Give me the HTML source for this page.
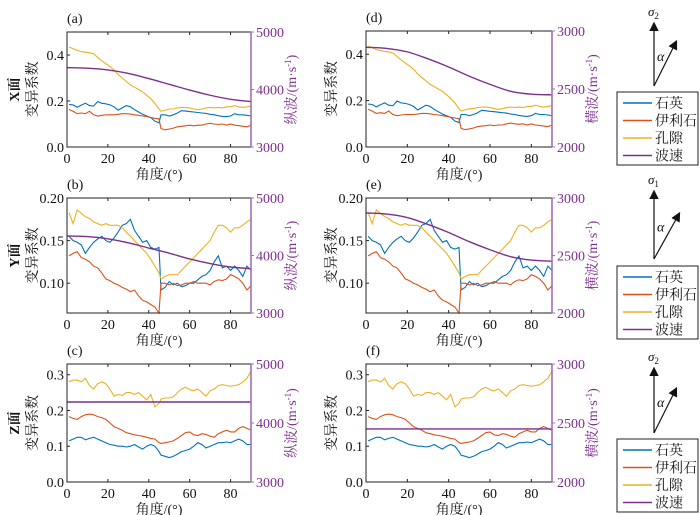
<!DOCTYPE html>
<html><head><meta charset="utf-8">
<style>
body{margin:0;background:#fff;}
svg{display:block;font-family:"Liberation Serif","Noto Serif CJK SC",serif;}
</style></head>
<body>
<svg id="fig" width="700" height="515" viewBox="0 0 700 515"></svg>
<script>
// ---- data ----
const angles = [1,3,5,7,9,11,13,15,17,19,21,23,25,27,29,31,33,35,37,39,41,43,45,46,48,50,52,54,56,58,60,62,64,66,68,70,72,74,76,78,80,82,84,86,88,90];
const xQuartz = [0.185,0.183,0.173,0.182,0.19,0.18,0.178,0.198,0.19,0.188,0.183,0.175,0.16,0.17,0.18,0.175,0.162,0.152,0.142,0.135,0.128,0.112,0.105,0.14,0.14,0.135,0.14,0.148,0.158,0.156,0.154,0.152,0.15,0.148,0.146,0.142,0.14,0.136,0.133,0.132,0.135,0.145,0.14,0.14,0.138,0.135];
const xIllite = [0.163,0.155,0.145,0.148,0.145,0.155,0.14,0.135,0.138,0.14,0.14,0.14,0.142,0.145,0.145,0.143,0.14,0.138,0.135,0.132,0.128,0.125,0.122,0.08,0.075,0.078,0.082,0.088,0.09,0.092,0.095,0.092,0.095,0.095,0.1,0.103,0.1,0.098,0.1,0.095,0.1,0.095,0.093,0.09,0.088,0.095];
const xPore = [0.435,0.428,0.42,0.415,0.412,0.41,0.405,0.39,0.375,0.362,0.35,0.335,0.315,0.3,0.285,0.27,0.26,0.25,0.24,0.225,0.21,0.19,0.165,0.155,0.16,0.165,0.165,0.17,0.172,0.172,0.17,0.165,0.162,0.165,0.17,0.172,0.17,0.172,0.17,0.175,0.175,0.18,0.175,0.172,0.175,0.178];
const yQuartz = [0.155,0.15,0.148,0.145,0.135,0.142,0.148,0.152,0.155,0.15,0.148,0.153,0.16,0.168,0.17,0.175,0.162,0.155,0.148,0.15,0.142,0.14,0.142,0.092,0.095,0.102,0.098,0.1,0.096,0.097,0.1,0.1,0.104,0.108,0.11,0.115,0.125,0.132,0.118,0.12,0.115,0.12,0.115,0.108,0.12,0.115];
const yIllite = [0.132,0.135,0.137,0.13,0.128,0.125,0.12,0.118,0.112,0.105,0.103,0.1,0.098,0.095,0.093,0.09,0.092,0.085,0.08,0.078,0.075,0.072,0.065,0.1,0.1,0.098,0.1,0.097,0.098,0.1,0.1,0.102,0.1,0.1,0.1,0.098,0.102,0.104,0.103,0.105,0.11,0.108,0.105,0.1,0.092,0.097];
const yPore = [0.183,0.17,0.186,0.182,0.178,0.176,0.172,0.17,0.168,0.17,0.168,0.168,0.168,0.165,0.16,0.155,0.15,0.145,0.14,0.135,0.128,0.12,0.112,0.105,0.108,0.11,0.11,0.11,0.115,0.12,0.125,0.13,0.135,0.14,0.145,0.15,0.16,0.168,0.168,0.165,0.16,0.165,0.165,0.168,0.172,0.175];
const zQuartz = [0.115,0.12,0.125,0.125,0.118,0.122,0.125,0.12,0.115,0.11,0.105,0.103,0.1,0.1,0.098,0.1,0.105,0.098,0.092,0.1,0.105,0.1,0.085,0.075,0.072,0.068,0.072,0.078,0.085,0.088,0.092,0.1,0.11,0.105,0.095,0.1,0.105,0.11,0.11,0.112,0.11,0.115,0.12,0.115,0.105,0.105];
const zIllite = [0.183,0.178,0.175,0.183,0.188,0.19,0.188,0.183,0.18,0.175,0.165,0.155,0.15,0.145,0.138,0.135,0.132,0.13,0.128,0.125,0.122,0.12,0.11,0.108,0.11,0.112,0.115,0.122,0.13,0.138,0.14,0.132,0.13,0.135,0.133,0.128,0.125,0.135,0.14,0.145,0.14,0.14,0.15,0.155,0.15,0.145];
const zPore = [0.28,0.285,0.285,0.28,0.29,0.27,0.26,0.275,0.28,0.275,0.26,0.24,0.245,0.242,0.25,0.25,0.245,0.25,0.24,0.23,0.245,0.21,0.22,0.232,0.235,0.235,0.238,0.25,0.26,0.265,0.258,0.255,0.26,0.25,0.24,0.255,0.26,0.27,0.272,0.27,0.268,0.27,0.272,0.28,0.29,0.31];
const velAngles = [0,10,20,30,40,50,60,70,80,90];
const vpX = [4380,4370,4340,4280,4190,4090,3990,3900,3830,3790];
const vpY = [4340,4330,4290,4220,4130,4040,3940,3860,3800,3770];
const vpZ = [4356,4356,4356,4356,4356,4356,4356,4356,4356,4356];
const vsX = [2860,2850,2820,2760,2690,2610,2540,2480,2455,2450];
const vsY = [2870,2860,2830,2770,2700,2620,2550,2490,2460,2450];
const vsZ = [2450,2450,2450,2450,2450,2450,2450,2450,2450,2450];
const xTicks = [0,20,40,60,80];

const C = {q:'#0072BD', i:'#D95319', p:'#EDB120', v:'#7E2F8E'};
const svg = document.getElementById('fig');
const NS = 'http://www.w3.org/2000/svg';
function mk(tag, attrs, parent){const e=document.createElementNS(NS,tag);for(const k in attrs)e.setAttribute(k,attrs[k]);(parent||svg).appendChild(e);return e;}
function txt(s, attrs, parent){const e=mk('text',attrs,parent);e.textContent=s;return e;}

const panels = [
 {id:'a',x0:67,x1:251,y0:32,y1:147,lmin:0,lmax:0.5,lt:[0,0.2,0.4],lf:1,rmin:3000,rmax:5000,rt:[3000,4000,5000],face:'X面',rl:'纵波',q:xQuartz,i:xIllite,p:xPore,v:vpX,left:true},
 {id:'b',x0:67,x1:251,y0:198,y1:313,lmin:0.065,lmax:0.2,lt:[0.10,0.15,0.20],lf:2,rmin:3000,rmax:5000,rt:[3000,4000,5000],face:'Y面',rl:'纵波',q:yQuartz,i:yIllite,p:yPore,v:vpY,left:true},
 {id:'c',x0:67,x1:251,y0:364,y1:482,lmin:0,lmax:0.33,lt:[0,0.1,0.2,0.3],lf:1,rmin:3000,rmax:5000,rt:[3000,4000,5000],face:'Z面',rl:'纵波',q:zQuartz,i:zIllite,p:zPore,v:vpZ,left:true},
 {id:'d',x0:366,x1:552,y0:31,y1:147,lmin:0,lmax:0.5,lt:[0,0.2,0.4],lf:1,rmin:2000,rmax:3000,rt:[2000,2500,3000],rl:'横波',q:xQuartz,i:xIllite,p:xPore,v:vsX},
 {id:'e',x0:366,x1:552,y0:198,y1:313,lmin:0.065,lmax:0.2,lt:[0.10,0.15,0.20],lf:2,rmin:2000,rmax:3000,rt:[2000,2500,3000],rl:'横波',q:yQuartz,i:yIllite,p:yPore,v:vsY},
 {id:'f',x0:366,x1:552,y0:364,y1:482,lmin:0,lmax:0.33,lt:[0,0.1,0.2,0.3],lf:1,rmin:2000,rmax:3000,rt:[2000,2500,3000],rl:'横波',q:zQuartz,i:zIllite,p:zPore,v:vsZ}
];

panels.forEach(P=>{
  const g = mk('g',{});
  
  
  const sx = a => P.x0 + a/90*(P.x1-P.x0);
  const sy = v => P.y1 - (v-P.lmin)/(P.lmax-P.lmin)*(P.y1-P.y0);
  const sr = v => P.y1 - (v-P.rmin)/(P.rmax-P.rmin)*(P.y1-P.y0);
  // series
  [['q','quartz'],['i','illite'],['p','pore']].forEach(([k,n])=>{
    const pts = angles.map((a,j)=>sx(a).toFixed(1)+','+sy(P[k][j]).toFixed(1)).join(' ');
    const l = mk('polyline',{points:pts,fill:'none',stroke:C[k],'stroke-width':1.1},g);
    
    
  });
  // velocity: catmull-rom
  const vp = velAngles.map((a,j)=>[sx(a),sr(P.v[j])]);
  let d = 'M'+vp[0][0]+','+vp[0][1];
  for(let j=0;j<vp.length-1;j++){
    const p0=vp[Math.max(0,j-1)],p1=vp[j],p2=vp[j+1],p3=vp[Math.min(vp.length-1,j+2)];
    d+=' C'+(p1[0]+(p2[0]-p0[0])/6)+','+(p1[1]+(p2[1]-p0[1])/6)+' '+(p2[0]-(p3[0]-p1[0])/6)+','+(p2[1]-(p3[1]-p1[1])/6)+' '+p2[0]+','+p2[1];
  }
  const vl = mk('path',{d:d,fill:'none',stroke:C.v,'stroke-width':1.4},g);
  
  
  // frame
  mk('path',{d:`M${P.x1},${P.y0} H${P.x0} V${P.y1} H${P.x1}`,fill:'none',stroke:'#222','stroke-width':1},g);
  mk('line',{x1:P.x1,y1:P.y0,x2:P.x1,y2:P.y1,stroke:'#a070b8','stroke-width':1.6},g);
  // x ticks
  xTicks.forEach(t=>{
    mk('line',{x1:sx(t),y1:P.y1,x2:sx(t),y2:P.y1-3,stroke:'#222'},g);
    mk('line',{x1:sx(t),y1:P.y0,x2:sx(t),y2:P.y0+3,stroke:'#222'},g);
    const e=txt(String(t),{x:sx(t),y:P.y1+16,'font-size':14,'text-anchor':'middle',fill:'#111'},g);
    
    
  });
  P.lt.forEach(t=>{
    mk('line',{x1:P.x0,y1:sy(t),x2:P.x0+3,y2:sy(t),stroke:'#222'},g);
    const e=txt(t.toFixed(P.lf),{x:P.x0-3,y:sy(t)+5,'font-size':14,'text-anchor':'end',fill:'#111'},g);
    
    
  });
  P.rt.forEach(t=>{
    mk('line',{x1:P.x1,y1:sr(t),x2:P.x1+3,y2:sr(t),stroke:'#a070b8'},g);
    const e=txt(String(t),{x:P.x1+5,y:sr(t)+5,'font-size':14,fill:C.v},g);
    
    
  });
  const pl=txt('('+P.id+')',{x:P.x0,y:P.y0-9,'font-size':14,fill:'#111'},g);
  
  
  const xl=txt('角度/(°)',{x:(P.x0+P.x1)/2,y:P.y1+32,'font-size':14,'text-anchor':'middle',fill:'#111'},g);
  
  
  const cy=(P.y0+P.y1)/2;
  const yl=txt('变异系数',{x:0,y:0,'font-size':14,'text-anchor':'middle',fill:'#111',transform:`translate(${P.x0-30},${cy}) rotate(-90)`},g);
  
  
  if(P.face){
    const fl=txt(P.face,{x:0,y:0,'font-size':14,'text-anchor':'middle',fill:'#111','font-weight':'bold',transform:`translate(${P.x0-48},${cy}) rotate(-90)`},g);
    
    
  }
  const rl=txt(P.rl+'/(m·s',{x:0,y:0,'font-size':14,'text-anchor':'middle',fill:C.v,transform:`translate(${P.x1+45},${cy}) rotate(-90)`},g);
  const sup=mk('tspan',{dy:-5,'font-size':9},rl); sup.textContent='-1';
  const cl=mk('tspan',{dy:5},rl); cl.textContent=')';
  
  
});

// legends + stress diagrams
const legs=[{y:92,s:'2',by:86,ty:20,dx:676,dy:42},{y:266,s:'1',by:259,ty:188,dx:679,dy:214},{y:439,s:'2',by:433,ty:365,dx:676,dy:389}];
const names=[['石英',C.q],['伊利石',C.i],['孔隙',C.p],['波速',C.v]];
mk('defs',{}).innerHTML='<marker id="ah" markerWidth="8" markerHeight="8" refX="6" refY="4" orient="auto"><path d="M0,0 L8,4 L0,8 Z" fill="#111"/></marker>';
legs.forEach((L,k)=>{
  const g=mk('g',{});
  
  
  mk('rect',{x:617,y:L.y,width:81,height:73,fill:'#fff',stroke:'#222','stroke-width':1},g);
  names.forEach(([n,c],j)=>{
    const yy=L.y+11+j*17.5;
    mk('line',{x1:623,y1:yy,x2:652,y2:yy,stroke:c,'stroke-width':1.4},g);
    const e=txt(n,{x:655,y:yy+5,'font-size':14,fill:'#111'},g);
    
    
  });
  const d=mk('g',{});
  
  
  mk('line',{x1:654,y1:L.by,x2:654,y2:L.ty+4,stroke:'#111','stroke-width':1.2,'marker-end':'url(#ah)'},d);
  mk('line',{x1:654,y1:L.by,x2:L.dx,y2:L.dy,stroke:'#111','stroke-width':1.2,'marker-end':'url(#ah)'},d);
  const s=txt('σ',{x:648,y:L.ty-4,'font-size':13,'font-style':'italic',fill:'#111'},d);
  const sb=mk('tspan',{dy:3,'font-size':9,'font-style':'normal'},s); sb.textContent=L.s;
  txt('α',{x:657,y:(L.by+L.ty)/2+8,'font-size':14,'font-style':'italic',fill:'#111'},d);
});
</script>
</body></html>
